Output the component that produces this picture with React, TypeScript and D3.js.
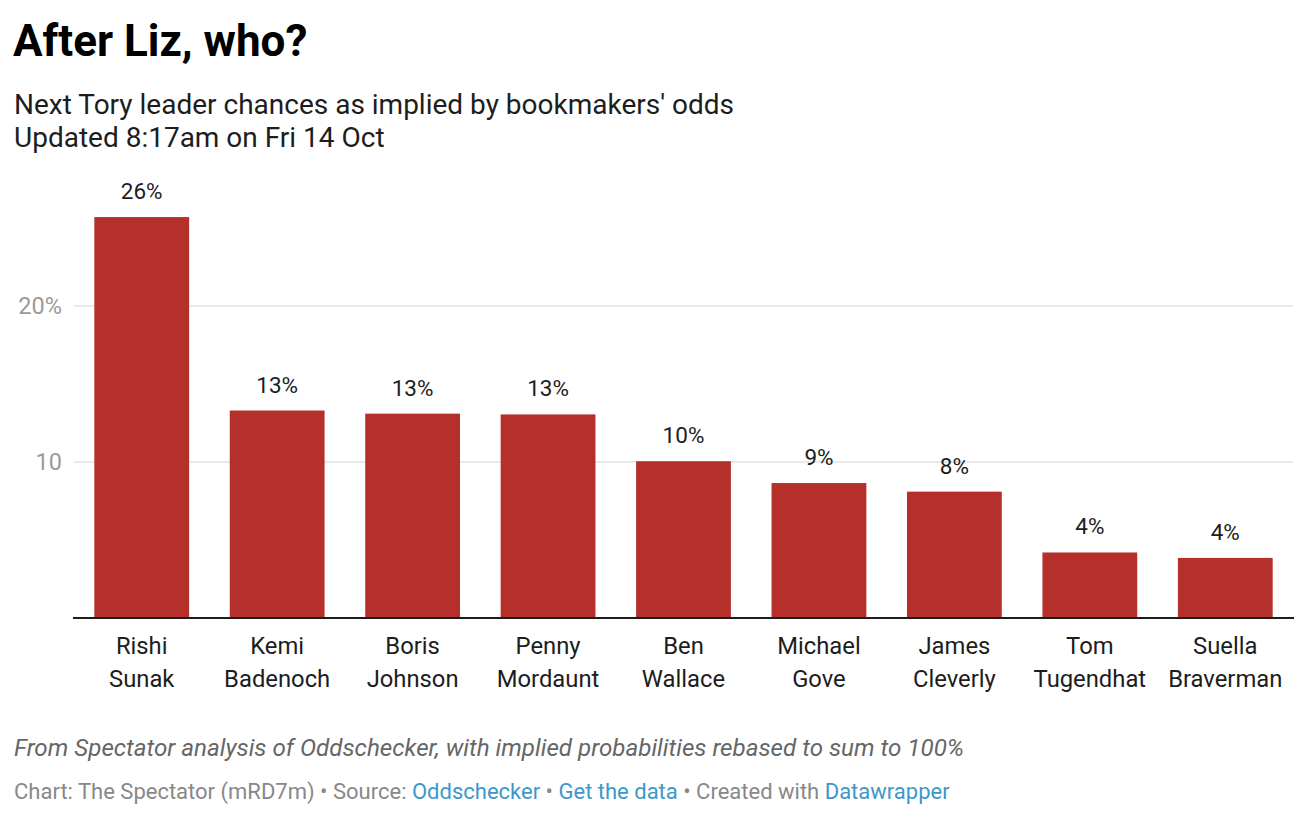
import React from "react";
import * as d3 from "d3";

const names: string[][] = [
  ["Rishi", "Sunak"],
  ["Kemi", "Badenoch"],
  ["Boris", "Johnson"],
  ["Penny", "Mordaunt"],
  ["Ben", "Wallace"],
  ["Michael", "Gove"],
  ["James", "Cleverly"],
  ["Tom", "Tugendhat"],
  ["Suella", "Braverman"],
];
const values: number[] = [25.7, 13.3, 13.1, 13.05, 10.05, 8.65, 8.1, 4.2, 3.85];
const valueLabels: string[] = ["26%", "13%", "13%", "13%", "10%", "9%", "8%", "4%", "4%"];
const yTicks: number[] = [10, 20];
const yTickLabels: string[] = ["10", "20%"];

const W = 1316;
const H = 826;
const FONT = "Roboto, 'Noto Sans', sans-serif";
const BAR = "#b5302a";

export default function App() {
  const keys = names.map((n) => n.join(" "));
  const x = d3.scaleBand<string>().domain(keys).range([74, 1293]).paddingInner(0.3).paddingOuter(0.15);
  const y = d3.scaleLinear().domain([0, 10]).range([618, 462]);

  return (
    <svg
      width={W}
      height={H}
      style={{ position: "absolute", left: 0, top: 0, background: "#fff" }}
      fontFamily={FONT}
    >
      <text x={13} y={56} fontSize={44} fontWeight={700} fill="#000">After Liz, who?</text>
      <text x={14} y={114} fontSize={28} fill="#1d1d1d">Next Tory leader chances as implied by bookmakers' odds</text>
      <text x={14} y={147} fontSize={28} fill="#1d1d1d">Updated 8:17am on Fri 14 Oct</text>

      {yTicks.map((t, i) => (
        <g key={t}>
          <line x1={74} x2={1293} y1={y(t)} y2={y(t)} stroke="#e2e2e2" strokeWidth={1.5} />
          <text x={62} y={y(t) + 8} textAnchor="end" fontSize={23.5} fill="#9a9a9a">{yTickLabels[i]}</text>
        </g>
      ))}

      {keys.map((k, i) => (
        <g key={k}>
          <rect x={x(k)} y={y(values[i])} width={x.bandwidth()} height={y(0) - y(values[i])} fill={BAR} />
          <text x={(x(k) as number) + x.bandwidth() / 2} y={y(values[i]) - 18} textAnchor="middle" fontSize={22.5} fill="#1d1d1d">
            {valueLabels[i]}
          </text>
          {names[i].map((line, j) => (
            <text key={j} x={(x(k) as number) + x.bandwidth() / 2} y={654 + j * 33} textAnchor="middle" fontSize={23.8} fill="#1d1d1d">
              {line}
            </text>
          ))}
        </g>
      ))}

      <line x1={73} x2={1294} y1={618} y2={618} stroke="#1d1d1d" strokeWidth={2} />

      <text x={14} y={756} fontSize={24.2} fontStyle="italic" fill="#666">
        From Spectator analysis of Oddschecker, with implied probabilities rebased to sum to 100%
      </text>
      <text x={14} y={799} fontSize={22} fill="#888">
        <tspan>Chart: The Spectator (mRD7m) • Source: </tspan>
        <tspan fill="#3e97c9">Oddschecker</tspan>
        <tspan> • </tspan>
        <tspan fill="#3e97c9">Get the data</tspan>
        <tspan> • Created with </tspan>
        <tspan fill="#3e97c9">Datawrapper</tspan>
      </text>
    </svg>
  );
}
